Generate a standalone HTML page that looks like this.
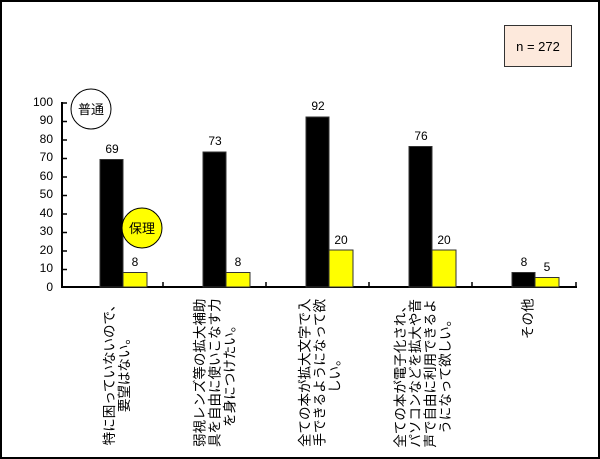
<!DOCTYPE html>
<html><head><meta charset="utf-8"><style>
body{margin:0;width:600px;height:459px;background:#fff;overflow:hidden;font-family:"Liberation Sans","Noto Sans CJK JP",sans-serif;}
#f{position:absolute;left:0;top:0;width:596px;height:455px;border:2px solid #000;overflow:hidden;}
.a{position:absolute;}
.lab{position:absolute;width:170px;text-align:right;transform:rotate(-90deg);font-size:13.5px;line-height:15px;color:#000;}
.lab span{display:inline-block;text-align:center;white-space:nowrap;}
.v{position:absolute;width:30px;text-align:center;font-size:12px;}
.yt{position:absolute;width:30px;text-align:right;font-size:12px;left:21px;}
</style></head><body>
<div id="f">
<svg class="a" style="left:0;top:0" width="596" height="455">
<g stroke="#000" stroke-width="2">
<line x1="60" y1="100" x2="60" y2="286"/>
<line x1="59" y1="285" x2="575" y2="285"/>
</g>
<g stroke="#000" stroke-width="1.5">
<line x1="60" y1="101" x2="65" y2="101"/><line x1="60" y1="119.5" x2="65" y2="119.5"/><line x1="60" y1="138" x2="65" y2="138"/><line x1="60" y1="156.5" x2="65" y2="156.5"/><line x1="60" y1="175" x2="65" y2="175"/><line x1="60" y1="193.5" x2="65" y2="193.5"/><line x1="60" y1="212" x2="65" y2="212"/><line x1="60" y1="230.5" x2="65" y2="230.5"/><line x1="60" y1="249" x2="65" y2="249"/><line x1="60" y1="267.5" x2="65" y2="267.5"/>
<line x1="161" y1="280" x2="161" y2="285"/><line x1="264" y1="280" x2="264" y2="285"/><line x1="367" y1="280" x2="367" y2="285"/><line x1="470" y1="280" x2="470" y2="285"/><line x1="574" y1="280" x2="574" y2="285"/>
</g>
<g stroke="#333" stroke-width="1">
<rect x="98" y="157.5" width="23" height="127.5" fill="#000"/>
<rect x="121" y="270.5" width="24" height="14.5" fill="#ffff00"/>
<rect x="201" y="150" width="23" height="135" fill="#000"/>
<rect x="224" y="270.5" width="24" height="14.5" fill="#ffff00"/>
<rect x="304" y="115" width="23" height="170" fill="#000"/>
<rect x="327" y="248" width="24" height="37" fill="#ffff00"/>
<rect x="407" y="144.5" width="23" height="140.5" fill="#000"/>
<rect x="430" y="248" width="24" height="37" fill="#ffff00"/>
<rect x="510" y="270.5" width="23" height="14.5" fill="#000"/>
<rect x="533" y="275.5" width="24" height="9.5" fill="#ffff00"/>
</g>
<circle cx="89" cy="107" r="20" fill="#fff" stroke="#000" stroke-width="1"/>
<circle cx="140" cy="226" r="20" fill="#ffff00" stroke="#000" stroke-width="1"/>
<rect x="502.5" y="23.5" width="67" height="41" fill="#fde9dc" stroke="#333"/>
<text x="536" y="49" font-size="13" text-anchor="middle" font-family="Liberation Sans,sans-serif">n = 272</text>
<text x="89" y="112" font-size="13" text-anchor="middle" font-family="Noto Sans CJK JP,sans-serif">普通</text>
<text x="140" y="231" font-size="13" text-anchor="middle" font-family="Noto Sans CJK JP,sans-serif">保理</text>
</svg>
<div class="yt" style="top:93px">100</div><div class="yt" style="top:111px">90</div><div class="yt" style="top:130px">80</div><div class="yt" style="top:148px">70</div><div class="yt" style="top:167px">60</div><div class="yt" style="top:185px">50</div><div class="yt" style="top:204px">40</div><div class="yt" style="top:222px">30</div><div class="yt" style="top:241px">20</div><div class="yt" style="top:259px">10</div><div class="yt" style="top:278px">0</div>
<div class="v" style="left:95px;top:140px">69</div><div class="v" style="left:118px;top:253px">8</div>
<div class="v" style="left:198px;top:132px">73</div><div class="v" style="left:221px;top:253px">8</div>
<div class="v" style="left:301px;top:97px">92</div><div class="v" style="left:324px;top:231px">20</div>
<div class="v" style="left:404px;top:127px">76</div><div class="v" style="left:427px;top:231px">20</div>
<div class="v" style="left:507px;top:253px">8</div><div class="v" style="left:530px;top:258px">5</div>
<div class="lab" style="left:30px;top:366px;height:30px"><span>特に困っていないので、<br>要望はない。</span></div>
<div class="lab" style="left:128px;top:359px;height:45px"><span>弱視レンズ等の拡大補助<br>具を自由に使いこなす力<br>を身につけたい。</span></div>
<div class="lab" style="left:233px;top:359px;height:45px"><span>全ての本が拡大文字で入<br>手できるようになって欲<br>しい。</span></div>
<div class="lab" style="left:336px;top:352px;height:60px"><span>全ての本が電子化され、<br>パソコンなどを拡大や音<br>声で自由に利用できるよ<br>うになって欲しい。</span></div>
<div class="lab" style="left:441px;top:374px;height:15px"><span>その他</span></div>
</div>
</body></html>
